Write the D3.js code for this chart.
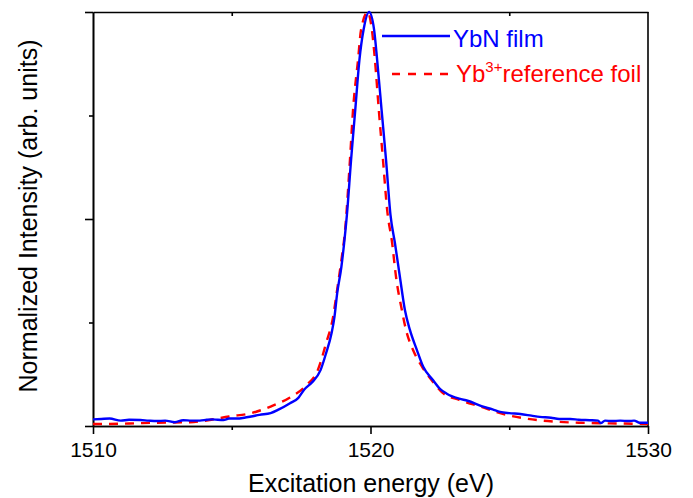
<!DOCTYPE html>
<html lang="en">
<head>
  <meta charset="UTF-8">
  <title>YbN XANES</title>
  <script src="https://d3js.org/d3.v7.min.js"></script>
  <style>
    body { margin: 0; background: #fff; }
    text { font-family: "Liberation Sans", Arial, Helvetica, sans-serif; }
    .axis path, .axis line { stroke: #000; stroke-width: 1.6; }
    .axis text { font-size: 21px; fill: #000; }
  </style>
</head>
<body>
  <svg></svg>
  <script>
    // energy (eV), normalized intensity
    const ybnFilm = [
      [1510.0, 0.016], [1510.3, 0.017], [1510.6, 0.018], [1511.0, 0.013], [1511.3, 0.015],
      [1511.7, 0.0145], [1512.0, 0.013], [1512.3, 0.012], [1512.6, 0.013], [1512.95, 0.009],
      [1513.25, 0.014], [1513.55, 0.013], [1513.85, 0.013], [1514.1, 0.015], [1514.3, 0.016],
      [1514.5, 0.015], [1514.7, 0.0145], [1514.9, 0.018], [1515.2, 0.018], [1515.45, 0.02],
      [1515.7, 0.023], [1516.0, 0.027], [1516.4, 0.031], [1516.7, 0.040], [1517.1, 0.055],
      [1517.4, 0.068], [1517.6, 0.087], [1517.9, 0.106], [1518.2, 0.135], [1518.4, 0.176],
      [1518.6, 0.225], [1518.7, 0.263], [1518.8, 0.321], [1518.95, 0.384], [1519.05, 0.442],
      [1519.15, 0.51], [1519.3, 0.643], [1519.45, 0.763], [1519.6, 0.884], [1519.75, 0.957],
      [1519.95, 1.0], [1520.13, 0.957], [1520.24, 0.884], [1520.4, 0.763], [1520.56, 0.643],
      [1520.72, 0.51], [1520.88, 0.442], [1521.06, 0.36], [1521.24, 0.28], [1521.42, 0.232],
      [1521.67, 0.184], [1521.9, 0.143], [1522.25, 0.111], [1522.5, 0.09], [1522.75, 0.078],
      [1523.2, 0.066], [1523.5, 0.061], [1524.0, 0.048], [1524.4, 0.040], [1524.67, 0.034],
      [1525.0, 0.031], [1525.4, 0.029], [1525.8, 0.025], [1526.1, 0.022], [1526.5, 0.020],
      [1526.8, 0.017], [1527.2, 0.017], [1527.5, 0.015], [1527.9, 0.014], [1528.2, 0.013],
      [1528.3, 0.007], [1528.45, 0.013], [1528.7, 0.012], [1529.0, 0.013], [1529.3, 0.012],
      [1529.5, 0.013], [1529.7, 0.008], [1530.0, 0.008]
    ];

    const refFoil = [
      [1510.0, 0.005], [1510.6, 0.005], [1511.3, 0.006], [1512.3, 0.008], [1513.5, 0.009],
      [1514.2, 0.0145], [1514.9, 0.023], [1515.7, 0.031], [1516.4, 0.047], [1517.1, 0.069],
      [1517.7, 0.099], [1518.1, 0.135], [1518.4, 0.2], [1518.65, 0.263], [1518.8, 0.33],
      [1518.95, 0.4], [1519.08, 0.47], [1519.26, 0.643], [1519.37, 0.763], [1519.55, 0.884],
      [1519.66, 0.957], [1519.9, 1.0], [1520.05, 0.957], [1520.16, 0.884], [1520.3, 0.763],
      [1520.45, 0.643], [1520.6, 0.522], [1520.78, 0.442], [1520.92, 0.36], [1521.13, 0.28],
      [1521.28, 0.232], [1521.53, 0.184], [1521.86, 0.143], [1522.2, 0.111], [1522.6, 0.08],
      [1523.2, 0.063], [1524.0, 0.046], [1524.67, 0.031], [1525.5, 0.019], [1526.8, 0.010],
      [1527.5, 0.008], [1529.0, 0.006], [1530.0, 0.005]
    ];

    const xMajor = [1510, 1520, 1530];
    const xMinor = [1515, 1525];
    const yMajor = [0, 0.5, 1];
    const yMinor = [0.25, 0.75];

    const width = 693, height = 498;
    const margin = { top: 12, right: 45, bottom: 72, left: 93 };

    const svg = d3.select("svg")
      .attr("width", width)
      .attr("height", height);

    const x = d3.scaleLinear()
      .domain([1510, 1530])
      .range([margin.left, width - margin.right]);

    const y = d3.scaleLinear()
      .domain([0, 1])
      .range([height - margin.bottom, margin.top]);

    // bottom axis, ticks pointing out
    svg.append("g")
      .attr("class", "axis")
      .attr("transform", `translate(0,${y(0)})`)
      .call(d3.axisBottom(x).tickValues(xMajor).tickSize(8).tickSizeOuter(0).tickPadding(8).tickFormat(d3.format("d")));
    svg.append("g")
      .attr("class", "axis")
      .attr("transform", `translate(0,${y(0)})`)
      .call(d3.axisBottom(x).tickValues(xMinor).tickSize(4).tickSizeOuter(0).tickFormat(""));

    // top axis, small ticks pointing in
    svg.append("g")
      .attr("class", "axis")
      .attr("transform", `translate(0,${y(1)})`)
      .call(d3.axisTop(x).tickValues(xMinor).tickSize(-4).tickSizeOuter(0).tickFormat(""));

    // left axis, no labels
    svg.append("g")
      .attr("class", "axis")
      .attr("transform", `translate(${x(1510)},0)`)
      .call(d3.axisLeft(y).tickValues(yMajor).tickSize(8).tickSizeOuter(0).tickFormat(""));
    svg.append("g")
      .attr("class", "axis")
      .attr("transform", `translate(${x(1510)},0)`)
      .call(d3.axisLeft(y).tickValues(yMinor).tickSize(4).tickSizeOuter(0).tickFormat(""));

    // right frame
    svg.append("line")
      .attr("x1", x(1530)).attr("x2", x(1530))
      .attr("y1", y(1)).attr("y2", y(0))
      .attr("stroke", "#000").attr("stroke-width", 1.6);

    const line = d3.line()
      .x(d => x(d[0]))
      .y(d => y(d[1]))
      .curve(d3.curveMonotoneX);

    svg.append("path")
      .datum(refFoil)
      .attr("fill", "none")
      .attr("stroke", "#ff0000")
      .attr("stroke-width", 2.4)
      .attr("stroke-dasharray", "9,7")
      .attr("d", line);

    svg.append("path")
      .datum(ybnFilm)
      .attr("fill", "none")
      .attr("stroke", "#0000ff")
      .attr("stroke-width", 2.4)
      .attr("d", line);

    // legend
    const lg = svg.append("g");
    lg.append("line")
      .attr("x1", 382).attr("x2", 450).attr("y1", 36).attr("y2", 36)
      .attr("stroke", "#0000ff").attr("stroke-width", 2.4);
    lg.append("text")
      .attr("x", 453).attr("y", 47)
      .attr("fill", "#0000ff").style("font-size", "24px")
      .text("YbN film");
    lg.append("line")
      .attr("x1", 392).attr("x2", 454).attr("y1", 74).attr("y2", 74)
      .attr("stroke", "#ff0000").attr("stroke-width", 2.4)
      .attr("stroke-dasharray", "8,8");
    const t2 = lg.append("text")
      .attr("x", 456).attr("y", 82)
      .attr("fill", "#ff0000").style("font-size", "24px");
    t2.append("tspan").text("Yb");
    t2.append("tspan").attr("dy", -10).style("font-size", "15px").text("3+");
    t2.append("tspan").attr("dy", 10).text("reference foil");

    // axis titles
    svg.append("text")
      .attr("x", 371).attr("y", 492)
      .attr("text-anchor", "middle")
      .style("font-size", "25px")
      .text("Excitation energy (eV)");

    svg.append("text")
      .attr("transform", `translate(37,216) rotate(-90)`)
      .attr("text-anchor", "middle")
      .style("font-size", "25px")
      .text("Normalized Intensity (arb. units)");
  </script>
</body>
</html>
